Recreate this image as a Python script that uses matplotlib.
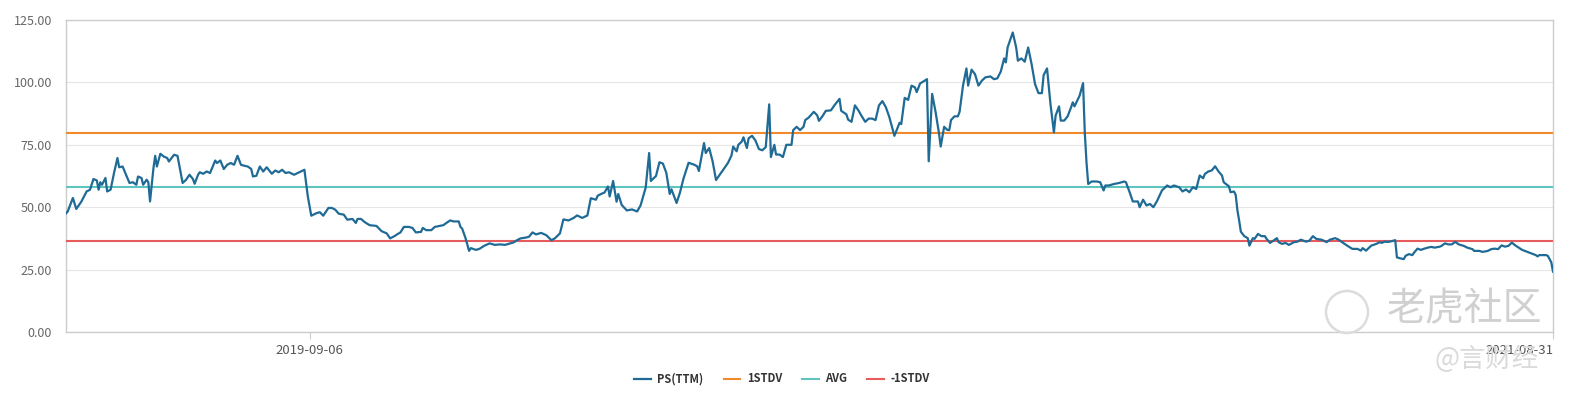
import matplotlib.pyplot as plt
import matplotlib.patches as mpatches
import pandas as pd

plt.rcParams['font.family'] = ['Noto Sans CJK SC', 'DejaVu Sans']

# PS(TTM)，按距 2019-04-17 的天数读图
start = pd.Timestamp('2019-04-17')
end = pd.Timestamp('2021-08-31')
days = [0, 1, 4, 6, 9, 12, 14, 16, 18, 19,
        20, 21, 23, 24, 26, 28, 30, 31, 33, 35,
        37, 39, 41, 42, 44, 45, 47, 48, 49, 51,
        52, 53, 55, 57, 59, 60, 63, 65, 66, 68,
        70, 72, 74, 75, 77, 78, 80, 82, 84, 87,
        88, 90, 92, 94, 96, 98, 100, 102, 104, 106,
        108, 109, 111, 113, 115, 117, 120, 122, 124, 126,
        128, 130, 133, 136, 139, 141, 143, 146, 148, 150,
        153, 155, 157, 159, 162, 164, 167, 169, 170, 172,
        174, 177, 181, 184, 187, 189, 192, 193, 195, 197,
        200, 202, 204, 207, 208, 210, 213, 215, 218, 220,
        222, 224, 226, 229, 230, 231, 233, 235, 236, 239,
        241, 244, 247, 250, 253, 256, 259, 261, 263, 265,
        268, 270, 272, 274, 277, 280, 283, 285, 288, 290,
        293, 296, 298, 301, 304, 306, 309, 310, 312, 314,
        316, 317, 319, 321, 322, 324, 327, 330, 333, 335,
        338, 340, 341, 344, 346, 348, 350, 352, 353, 356,
        358, 360, 363, 366, 368, 369, 372, 373, 375, 377,
        379, 382, 384, 386, 388, 389, 391, 392, 394, 395,
        397, 398, 400, 402, 404, 406, 408, 410, 411, 413,
        414, 416, 418, 420, 423, 424, 426, 428, 430, 431,
        433, 436, 438, 439, 441, 443, 446, 448, 451, 452,
        455, 456, 458, 460, 462, 464, 466, 468, 470, 472,
        474, 476, 478, 480, 483, 484, 486, 487, 489, 491,
        493, 495, 496, 498, 500, 502, 503, 505, 507, 509,
        510, 512, 514, 515, 516, 518, 520, 521, 523, 525,
        526, 528, 530, 532, 534, 536, 539, 541, 543, 545,
        547, 548, 549, 551, 552, 554, 555, 557, 559, 561,
        563, 565, 567, 569, 570, 572, 574, 576, 577, 579,
        580, 582, 584, 586, 587, 588, 590, 591, 593, 594,
        595, 596, 598, 601, 603, 605, 606, 608, 611, 614,
        617, 618, 620, 622, 625, 626, 628, 630, 632, 634,
        636, 639, 642, 644, 646, 649, 651, 653, 655, 657,
        659, 661, 663, 664, 666, 668, 670, 672, 674, 675,
        678, 679, 681, 682, 683, 684, 685, 687, 689, 690,
        692, 693, 695, 697, 699, 700, 702, 704, 706, 707,
        709, 711, 713, 716, 718, 720, 723, 725, 727, 729,
        732, 735, 737, 740, 742, 744, 747, 750, 753, 755,
        756, 758, 761, 764, 766, 767, 769, 771, 773, 775,
        776, 778, 780, 781, 783, 785, 786, 788, 790, 792,
        794, 796, 798, 801, 802, 804, 806, 808, 810, 812,
        815, 817, 820, 821, 824, 826, 829, 831, 833, 835,
        837, 839, 841, 843, 845, 847, 849, 852, 854, 857,
        858, 859, 861, 863, 864, 866, 867]
ps_ttm = [47.5, 48.3, 53.7, 49.3, 52.3, 56.3, 57.0, 61.3, 60.7, 57.0,
          60.0, 59.0, 61.7, 56.3, 57.0, 63.7, 69.7, 66.0, 66.3, 63.0,
          59.7, 60.0, 59.0, 62.3, 61.7, 59.0, 61.0, 60.0, 52.3, 65.7,
          70.6, 66.3, 71.4, 70.3, 69.7, 68.3, 71.0, 70.6, 67.0, 59.7,
          61.0, 63.0, 61.3, 59.4, 63.0, 64.0, 63.4, 64.3, 63.7, 68.7,
          67.7, 68.7, 65.3, 67.0, 67.7, 67.0, 70.6, 67.0, 66.6, 66.3,
          65.3, 62.3, 62.6, 66.3, 64.3, 66.0, 63.4, 64.7, 64.0, 65.0,
          63.7, 64.0, 63.0, 64.0, 65.0, 54.3, 46.6, 47.6, 48.0, 46.6,
          49.7, 49.7, 49.0, 47.4, 47.0, 45.0, 45.3, 43.7, 45.3, 45.3,
          44.1, 42.8, 42.5, 40.4, 39.5, 37.5, 38.6, 39.1, 39.9, 42.1,
          42.1, 41.7, 39.9, 40.1, 41.7, 40.8, 40.8, 42.1, 42.5, 42.8,
          43.8, 44.7, 44.3, 44.3, 42.1, 41.4, 37.5, 32.5, 33.6, 32.9,
          33.3, 34.6, 35.5, 34.9, 35.1, 34.9, 35.5, 35.9, 36.8, 37.5,
          37.8, 38.2, 39.9, 39.1, 39.7, 38.8, 36.8, 37.5, 39.5, 45.1,
          44.7, 45.7, 46.7, 45.7, 46.7, 53.6, 53.0, 54.6, 55.3, 55.9,
          58.3, 54.3, 60.5, 52.2, 55.3, 50.9, 48.7, 49.1, 48.3, 50.7,
          57.9, 71.7, 60.5, 62.5, 68.0, 67.5, 63.8, 55.3, 57.2, 51.7,
          55.9, 61.4, 67.8, 67.1, 66.4, 64.5, 75.7, 71.7, 73.7, 68.4,
          60.9, 63.8, 65.8, 67.8, 70.7, 74.3, 72.4, 75.0, 76.3, 78.0,
          73.7, 77.6, 78.6, 76.7, 73.3, 72.8, 74.1, 91.2, 70.1, 75.0,
          71.1, 71.1, 70.1, 75.0, 75.0, 80.9, 82.2, 80.9, 82.2, 84.9,
          85.9, 88.2, 86.8, 84.6, 86.4, 88.6, 88.8, 90.8, 93.4, 88.6,
          87.2, 85.1, 84.2, 90.8, 88.8, 86.4, 84.2, 85.5, 85.5, 84.9,
          90.8, 92.5, 90.1, 86.2, 78.6, 80.3, 83.8, 83.3, 93.8, 93.0,
          98.7, 98.0, 96.1, 99.6, 100.4, 101.3, 68.4, 95.4, 88.2, 79.6,
          74.3, 82.2, 80.9, 80.9, 84.9, 86.4, 86.4, 88.2, 98.7, 105.6,
          98.7, 105.1, 103.3, 98.7, 100.7, 102.0, 102.4, 101.3, 101.6, 104.3,
          109.6, 108.0, 114.0, 118.0, 120.0, 114.0, 108.7, 109.6, 108.3, 114.0,
          107.3, 99.3, 95.7, 95.7, 102.9, 105.6, 91.3, 80.0, 86.7, 90.4,
          84.7, 84.7, 86.4, 90.0, 92.0, 90.4, 93.3, 94.7, 99.7, 80.0,
          68.0, 59.3, 60.3, 60.3, 60.0, 56.7, 58.7, 58.7, 59.3, 59.7,
          60.3, 60.0, 56.3, 52.3, 52.3, 50.0, 53.0, 50.7, 51.3, 50.0,
          52.3, 56.7, 58.7, 58.0, 58.7, 58.0, 56.3, 57.1, 56.0, 58.0,
          57.3, 62.7, 61.6, 63.3, 64.3, 64.7, 66.4, 64.3, 62.7, 60.0,
          58.4, 56.0, 56.3, 54.9, 48.7, 44.7, 40.2, 38.4, 37.6, 34.6,
          37.6, 37.3, 39.3, 38.4, 38.4, 37.3, 35.7, 36.6, 37.6, 36.0,
          35.3, 35.7, 34.9, 36.0, 36.2, 37.0, 36.2, 36.6, 38.4, 37.3,
          37.0, 36.0, 37.0, 37.6, 37.0, 36.0, 34.6, 33.3, 33.3, 32.6,
          33.6, 32.6, 34.6, 35.3, 36.0, 35.7, 36.2, 36.1, 36.4, 36.8,
          29.9, 29.5, 29.2, 30.5, 31.2, 30.8, 31.8, 33.4, 32.9, 33.4,
          33.8, 34.1, 33.8, 34.2, 34.5, 35.5, 35.1, 35.1, 36.1, 35.1,
          34.5, 33.8, 33.2, 32.5, 32.5, 32.1, 32.5, 33.2, 33.4, 33.2,
          34.7, 34.2, 34.5, 35.8, 34.7, 33.8, 32.9, 32.1, 31.6, 30.8,
          30.3, 30.8, 30.8, 30.8, 30.5, 27.9, 24.2]
assert len(days) == len(ps_ttm)

stdv_up = 79.7
avg = 58.0
stdv_down = 36.4

xtick_labels = ['2019-09-06', '2021-08-31']
yticks = [0, 25, 50, 75, 100, 125]

dates = start + pd.to_timedelta(days, unit='D')

fig = plt.figure(figsize=(15.74, 3.98), dpi=100)
ax = fig.add_axes([66 / 1574, 1 - 332 / 398, (1553 - 66) / 1574, (332 - 20) / 398])

ax.plot(dates, ps_ttm, color='#1f6b95', lw=1.6, label='PS(TTM)', zorder=4)
ax.axhline(stdv_up, color='#f08a2c', lw=1.5, label='1STDV', zorder=3)
ax.axhline(avg, color='#5ec4bf', lw=1.5, label='AVG', zorder=3)
ax.axhline(stdv_down, color='#e65c5c', lw=1.5, label='-1STDV', zorder=3)

ax.set_ylim(0, 125)
ax.set_xlim(start, end)
ax.set_yticks(yticks)
ax.set_yticklabels(['%.2f' % v for v in yticks])
ax.set_xticks(pd.to_datetime(xtick_labels))
ax.set_xticklabels(xtick_labels)
ax.get_xticklabels()[1].set_ha('right')

ax.grid(axis='y', color='#e6e6e6', lw=0.8)
ax.set_axisbelow(True)
for s in ax.spines.values():
    s.set_color('#cccccc')
    s.set_linewidth(1)
ax.tick_params(axis='y', length=0, pad=10, labelsize=9, labelcolor='#666666')
ax.tick_params(axis='x', length=5, width=0.8, color='#cccccc', pad=4, labelsize=9.5, labelcolor='#555555')

leg = fig.legend(loc='center', bbox_to_anchor=(782 / 1574, 1 - 379 / 398), ncol=4,
                 frameon=False, prop={'size': 8, 'weight': 'bold'},
                 handlelength=1.5, handletextpad=0.6, columnspacing=1.8)
for t in leg.get_texts():
    t.set_color('#333333')

# 水印
fig.add_artist(mpatches.Circle((13.47, 0.86), 0.21, transform=fig.dpi_scale_trans,
                               fill=False, ec='#dcdcdc', lw=1.8))
fig.text(1387 / 1574, 1 - 309 / 398, '老虎社区', fontsize=28, color='#d0d0d0',
         va='center', ha='left')
fig.text(1434 / 1574, 1 - 359 / 398, '@言财经', fontsize=19, color='#dadada',
         va='center', ha='left')

fig.savefig('out.png', dpi=100)
